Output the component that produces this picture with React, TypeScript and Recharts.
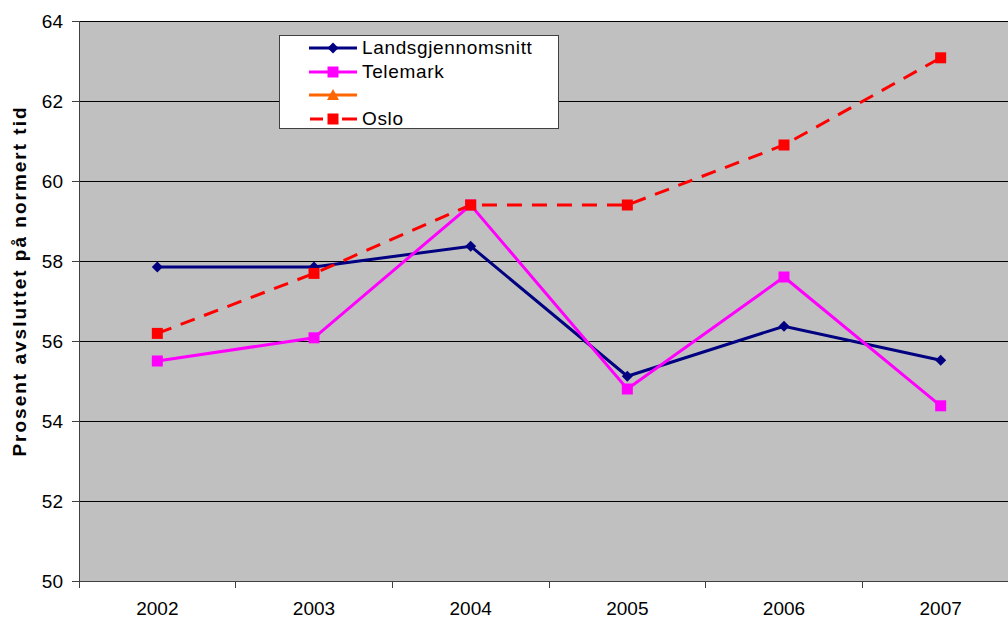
import React from 'react';
import { LineChart, Line, XAxis, YAxis, CartesianGrid } from 'recharts';

const YEARS = ['2002', '2003', '2004', '2005', '2006', '2007'];
const LANDSGJENNOMSNITT = [57.85, 57.85, 58.37, 55.12, 56.37, 55.52];
const TELEMARK = [55.5, 56.08, 59.4, 54.8, 57.6, 54.38];
const UNNAMED: (number | null)[] = [null, null, null, null, null, null];
const OSLO = [56.19, 57.69, 59.4, 59.4, 60.9, 63.08];
const Y_TICKS = [50, 52, 54, 56, 58, 60, 62, 64];
const Y_LABEL = 'Prosent avsluttet på normert tid';

const data = YEARS.map((year, i) => ({
  year,
  lands: LANDSGJENNOMSNITT[i],
  telemark: TELEMARK[i],
  unnamed: UNNAMED[i],
  oslo: OSLO[i],
}));

const FONT = '"Liberation Sans", Arial, sans-serif';
const CHART_W = 1020;
const CHART_H = 619;
const PLOT_LEFT = 79;
const PLOT_RIGHT = 1019;
const PLOT_BOTTOM = 581;
const BAND = (PLOT_RIGHT - PLOT_LEFT) / YEARS.length;

const Diamond = (color: string) => (props: any) => {
  const { cx, cy, index } = props;
  if (cx == null || cy == null) return <g key={index} />;
  const r = 5.5;
  return (
    <path
      key={index}
      d={`M${cx},${cy - r}L${cx + r},${cy}L${cx},${cy + r}L${cx - r},${cy}Z`}
      fill={color}
    />
  );
};

const Square = (color: string) => (props: any) => {
  const { cx, cy, index } = props;
  if (cx == null || cy == null) return <g key={index} />;
  const s = 11;
  return <rect key={index} x={cx - s / 2} y={cy - s / 2} width={s} height={s} fill={color} />;
};

// Excel-style: labels at category centre, tick marks at the boundaries
const XTick = (props: any) => {
  const { x, payload, index } = props;
  const left = x - BAND / 2;
  return (
    <g>
      <line x1={left} y1={PLOT_BOTTOM} x2={left} y2={PLOT_BOTTOM + 7} stroke="#404040" strokeWidth={1} shapeRendering="crispEdges" />
      {index === YEARS.length - 1 && (
        <line x1={x + BAND / 2} y1={PLOT_BOTTOM} x2={x + BAND / 2} y2={PLOT_BOTTOM + 7} stroke="#404040" shapeRendering="crispEdges" />
      )}
      <text x={x} y={PLOT_BOTTOM + 34} textAnchor="middle" fontSize={19} fontFamily={FONT} fill="#000">
        {payload.value}
      </text>
    </g>
  );
};

const YLabel = () => (
  <text
    x={19}
    y={281}
    transform="rotate(-90, 19, 281)"
    textAnchor="middle"
    dominantBaseline="central"
    fontSize={19}
    fontWeight="bold"
    fontFamily={FONT}
    letterSpacing={2.0}
    fill="#000"
  >
    {Y_LABEL}
  </text>
);

const LEGEND = [
  { name: 'Landsgjennomsnitt', color: '#000080', marker: 'diamond', dash: false },
  { name: 'Telemark', color: '#ff00ff', marker: 'square', dash: false },
  { name: '', color: '#ff6600', marker: 'triangle', dash: false },
  { name: 'Oslo', color: '#ff0000', marker: 'square', dash: true },
];

const LegendBox = () => (
  <div
    style={{
      position: 'absolute',
      left: 279,
      top: 35,
      width: 280,
      height: 94,
      background: '#fff',
      border: '1px solid #404040',
      boxSizing: 'border-box',
      fontFamily: FONT,
      fontSize: 19,
      letterSpacing: 0.65,
    }}
  >
    {LEGEND.map((item, i) => (
      <div key={i} style={{ position: 'absolute', left: 0, top: 1 + i * 23.5, height: 22, display: 'flex', alignItems: 'center' }}>
        <svg width={82} height={22} style={{ display: 'block' }}>
          {item.dash ? (
            <>
              <line x1={30} y1={11} x2={43} y2={11} stroke={item.color} strokeWidth={3} />
              <line x1={62} y1={11} x2={77} y2={11} stroke={item.color} strokeWidth={3} />
            </>
          ) : (
            <line x1={29} y1={11} x2={77} y2={11} stroke={item.color} strokeWidth={3} />
          )}
          {item.marker === 'diamond' && <path d="M53,5.5L58.5,11L53,16.5L47.5,11Z" fill={item.color} />}
          {item.marker === 'square' && <rect x={47.5} y={5.5} width={11} height={11} fill={item.color} />}
          {item.marker === 'triangle' && <path d="M53,5L59,16L47,16Z" fill={item.color} />}
        </svg>
        <span style={{ lineHeight: '22px' }}>{item.name}</span>
      </div>
    ))}
  </div>
);

export default function App() {
  return (
    <div style={{ position: 'absolute', left: 0, top: 0, width: 1008, height: 619, overflow: 'hidden', background: '#fff' }}>
      <LineChart width={CHART_W} height={CHART_H} data={data} margin={{ top: 21, right: CHART_W - PLOT_RIGHT, bottom: 0, left: 0 }}>
        <CartesianGrid vertical={false} stroke="#000" strokeWidth={1} fill="#c0c0c0" fillOpacity={1} shapeRendering="crispEdges" />
        <XAxis
          dataKey="year"
          scale="band"
          axisLine={{ stroke: '#404040', shapeRendering: 'crispEdges' }}
          tickLine={false}
          tick={<XTick />}
          interval={0}
          height={CHART_H - PLOT_BOTTOM}
        />
        <YAxis
          domain={[50, 64]}
          ticks={Y_TICKS}
          width={PLOT_LEFT}
          axisLine={{ stroke: '#404040', shapeRendering: 'crispEdges' }}
          tickLine={{ stroke: '#404040', shapeRendering: 'crispEdges' }}
          tickSize={7}
          tickMargin={9}
          tick={{ fontSize: 19, fontFamily: FONT, fill: '#000' }}
          label={<YLabel />}
        />
        <Line dataKey="lands" stroke="#000080" strokeWidth={3} dot={Diamond('#000080')} isAnimationActive={false} />
        <Line dataKey="telemark" stroke="#ff00ff" strokeWidth={3} dot={Square('#ff00ff')} isAnimationActive={false} />
        <Line dataKey="unnamed" stroke="#ff6600" strokeWidth={3} dot={false} isAnimationActive={false} />
        <Line dataKey="oslo" stroke="#ff0000" strokeWidth={3} strokeDasharray="15 10" dot={Square('#ff0000')} isAnimationActive={false} />
      </LineChart>
      <LegendBox />
    </div>
  );
}
